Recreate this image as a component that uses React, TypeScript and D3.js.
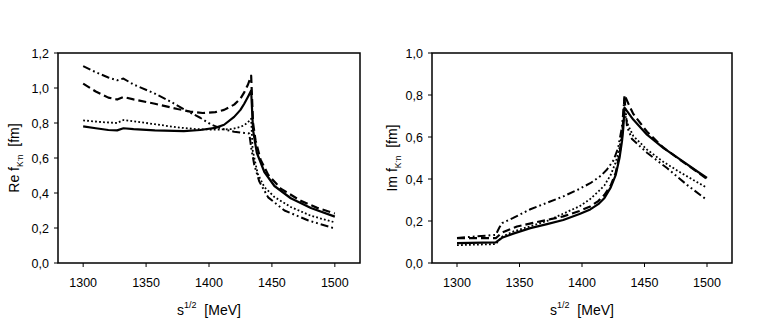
import React from "react";
import * as d3 from "d3";

// ---- Data (sqrt(s) in MeV, amplitude in fm) ----
const xTicks = [1300, 1350, 1400, 1450, 1500];
const reYTicks = [0, 0.2, 0.4, 0.6, 0.8, 1.0, 1.2];
const imYTicks = [0, 0.2, 0.4, 0.6, 0.8, 1.0];

// Re f (left panel)
const reSolid: [number, number][] = [
  [1300, 0.781], [1310, 0.77], [1320, 0.76], [1327, 0.758], [1332, 0.77], [1340, 0.765],
  [1357, 0.758], [1380, 0.754], [1393, 0.76], [1405, 0.772], [1412, 0.79], [1420, 0.835],
  [1425, 0.875], [1428, 0.91], [1431, 0.95], [1433.5, 0.985], [1435, 0.76], [1438, 0.63],
  [1444, 0.52], [1452, 0.44], [1465, 0.37], [1481, 0.314], [1500, 0.265],
];
const reDashed: [number, number][] = [
  [1300, 1.025], [1310, 0.98], [1320, 0.945], [1327, 0.934], [1332, 0.949], [1340, 0.935],
  [1357, 0.91], [1375, 0.88], [1385, 0.865], [1395, 0.857], [1405, 0.862], [1412, 0.875],
  [1420, 0.905], [1425, 0.94], [1428, 0.975], [1431, 1.02], [1433.5, 1.07], [1435, 0.8],
  [1437, 0.7], [1441, 0.59], [1447, 0.505], [1457, 0.425], [1473, 0.355], [1486, 0.315], [1500, 0.283],
];
const reDotted: [number, number][] = [
  [1300, 0.815], [1315, 0.805], [1327, 0.8], [1332, 0.817], [1345, 0.805], [1357, 0.793],
  [1375, 0.775], [1390, 0.765], [1405, 0.762], [1418, 0.765], [1425, 0.778], [1428, 0.787],
  [1431, 0.805], [1433.5, 0.825], [1434.7, 0.644], [1438.7, 0.51], [1444, 0.434], [1452, 0.377],
  [1465, 0.32], [1481, 0.27], [1500, 0.232],
];
const reDashDot: [number, number][] = [
  [1300, 1.125], [1310, 1.09], [1320, 1.06], [1327, 1.044], [1332, 1.054], [1340, 1.02],
  [1357, 0.968], [1370, 0.92], [1384, 0.863], [1393, 0.83], [1402, 0.79], [1410, 0.767],
  [1420, 0.75], [1428, 0.743], [1432, 0.74], [1433.5, 0.66], [1436, 0.56], [1440, 0.465],
  [1447, 0.375], [1460, 0.3], [1479, 0.243], [1500, 0.197],
];

// Im f (right panel)
const imSolid: [number, number][] = [
  [1300, 0.095], [1331, 0.098], [1336, 0.12], [1345, 0.14], [1358.7, 0.166], [1372, 0.185],
  [1385, 0.205], [1398, 0.233], [1406.6, 0.255], [1413, 0.28], [1418, 0.31], [1423, 0.36],
  [1427, 0.42], [1430, 0.5], [1432, 0.58], [1433, 0.64], [1434, 0.74], [1441, 0.683],
  [1452, 0.611], [1465, 0.548], [1478.7, 0.492], [1492, 0.437], [1500, 0.405],
];
const imDashed: [number, number][] = [
  [1300, 0.118], [1331, 0.118], [1336, 0.145], [1348, 0.174], [1360, 0.19], [1372, 0.205],
  [1385, 0.222], [1398, 0.248], [1406.6, 0.269], [1413, 0.295], [1418, 0.325], [1423, 0.37],
  [1427, 0.43], [1430, 0.52], [1432, 0.6], [1433, 0.68], [1434, 0.8], [1437, 0.76],
  [1441, 0.71], [1452, 0.625], [1465, 0.55], [1478.7, 0.49], [1492, 0.435], [1500, 0.4],
];
const imDotted: [number, number][] = [
  [1300, 0.085], [1331, 0.09], [1336, 0.125], [1345, 0.15], [1358.7, 0.175], [1372, 0.2],
  [1385, 0.235], [1398, 0.27], [1406.6, 0.305], [1413, 0.34], [1418, 0.37], [1423, 0.42],
  [1427, 0.48], [1430, 0.55], [1432, 0.62], [1434, 0.715], [1437, 0.655], [1441, 0.605],
  [1452, 0.54], [1465, 0.482], [1479, 0.43], [1492, 0.385], [1500, 0.358],
];
const imDashDot: [number, number][] = [
  [1300, 0.119], [1331, 0.134], [1334, 0.17], [1336, 0.19], [1345, 0.215], [1358.7, 0.256],
  [1372, 0.287], [1385, 0.317], [1397, 0.35], [1406.6, 0.38], [1415, 0.415], [1420, 0.445],
  [1425.3, 0.49], [1429, 0.55], [1432, 0.65], [1434, 0.79], [1436, 0.65], [1440, 0.59],
  [1452, 0.525], [1468, 0.452], [1484, 0.372], [1500, 0.3],
];

const styles = [
  { dash: "none", width: 2.2 },
  { dash: "8,4", width: 2.2 },
  { dash: "1.8,2.2", width: 1.8 },
  { dash: "8,3,1.8,3,1.8,3", width: 2 },
];

const FONT = "'Liberation Sans', Arial, sans-serif";

type PanelProps = {
  left: number; right: number; top: number; bottom: number;
  yMax: number; yTicks: number[];
  series: [number, number][][];
  prefix: string;
  labelX: number;
};

function Panel({ left, right, top, bottom, yMax, yTicks, series, prefix, labelX }: PanelProps) {
  const x = d3.scaleLinear().domain([1280, 1520]).range([left, right]);
  const y = d3.scaleLinear().domain([0, yMax]).range([bottom, top]);
  const line = d3.line<[number, number]>().x((d) => x(d[0])).y((d) => y(d[1])).curve(d3.curveLinear);
  const fmt = (v: number) => v.toFixed(1).replace(".", ",");
  const cx = (left + right) / 2;
  const cy = (top + bottom) / 2;
  return (
    <g fontFamily={FONT}>
      {series.map((s, i) => (
        <path key={i} d={line(s) || ""} fill="none" stroke="#000"
          strokeWidth={styles[i].width} strokeDasharray={styles[i].dash} strokeLinejoin="round" />
      ))}
      <rect x={left} y={top} width={right - left} height={bottom - top} fill="none" stroke="#000" strokeWidth={1.5} />
      {yTicks.map((t) => (
        <g key={t}>
          <line x1={left - 4} x2={left} y1={y(t)} y2={y(t)} stroke="#000" strokeWidth={1} />
          <text x={left - 9} y={y(t) + 4.5} textAnchor="end" fontSize={12.5}>{fmt(t)}</text>
        </g>
      ))}
      {xTicks.map((t) => (
        <g key={t}>
          <line x1={x(t)} x2={x(t)} y1={bottom} y2={bottom + 4} stroke="#000" strokeWidth={1} />
          <text x={x(t)} y={bottom + 24} textAnchor="middle" fontSize={12.5}>{t}</text>
        </g>
      ))}
      <text x={cx} y={bottom + 52} textAnchor="middle" fontSize={14}>
        s<tspan fontSize={9} dy={-7}>1/2</tspan><tspan dy={7}>{"\u00a0\u00a0[MeV]"}</tspan>
      </text>
      <text transform={`translate(${labelX},${cy}) rotate(-90)`} textAnchor="middle" fontSize={14}>
        {prefix} f<tspan fontSize={8.5} dy={4}>K</tspan><tspan fontSize={6.5} dy={-3.5}>-</tspan>
        <tspan fontSize={8.5} dy={3.5}>n</tspan><tspan dy={-4}>{"\u00a0\u00a0[fm]"}</tspan>
      </text>
    </g>
  );
}

export default function App() {
  return (
    <svg width={759} height={322} style={{ position: "absolute", left: 0, top: 0, background: "#fff" }}>
      <rect width={759} height={322} fill="#fff" />
      <Panel left={58} right={360} top={53} bottom={263} yMax={1.2} yTicks={reYTicks}
        series={[reSolid, reDashed, reDotted, reDashDot]} prefix="Re" labelX={19} />
      <Panel left={432} right={732} top={53} bottom={263} yMax={1.0} yTicks={imYTicks}
        series={[imSolid, imDashed, imDotted, imDashDot]} prefix="Im" labelX={397} />
    </svg>
  );
}
